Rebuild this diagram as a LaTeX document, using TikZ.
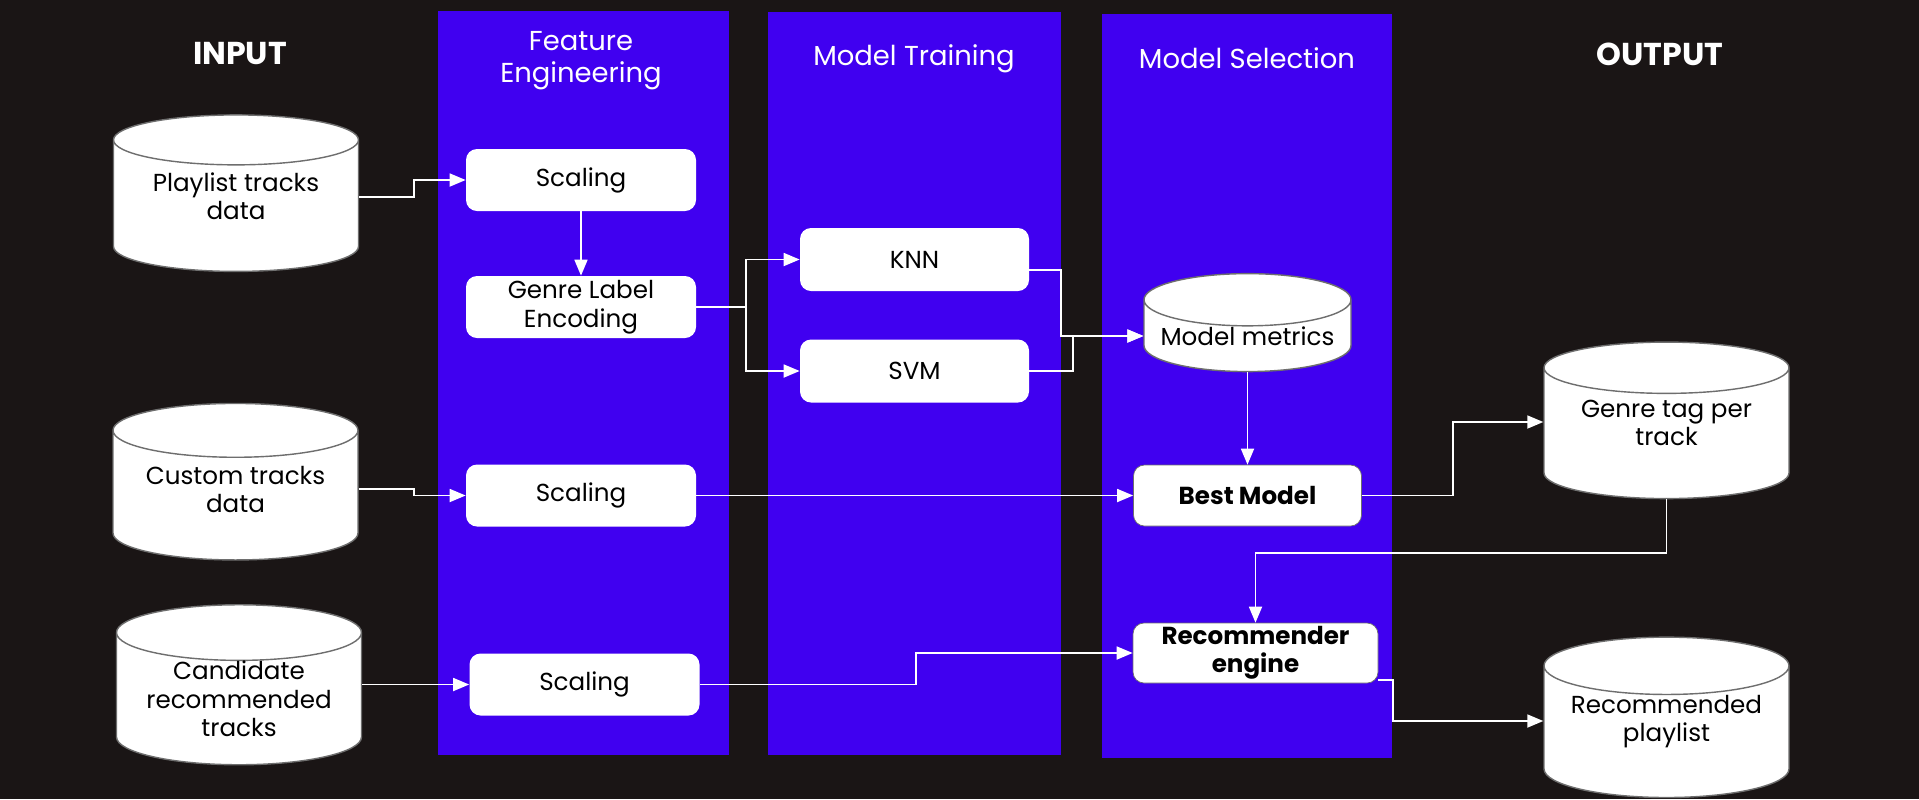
\documentclass[tikz,border=0pt]{standalone}
\usepackage{fontspec}
\setmainfont{Poppins}
\usetikzlibrary{shapes.geometric,arrows.meta}
\definecolor{bgdark}{RGB}{26,21,21}
\definecolor{lane}{RGB}{64,0,240}
\definecolor{rim}{RGB}{110,110,110}

\begin{document}
\begin{tikzpicture}[
  every node/.style={font=\fontsize{14}{16.2}\selectfont},
  box/.style={fill=white, rounded corners=0.22cm, minimum width=4.6cm, minimum height=1.24cm, align=center, inner sep=0},
  db/.style={cylinder, shape border rotate=90, aspect=0.3, draw=rim, fill=white, line width=0.8pt, minimum width=4.9cm, minimum height=3.13cm, align=center, inner sep=0},
  title/.style={text=white, font=\fontsize{15.6}{18.3}\selectfont, align=center},
  head/.style={text=white, font=\bfseries\fontsize{18}{20}\selectfont},
  flow/.style={draw=white, line width=1pt, -{Triangle[length=0.32cm,width=0.26cm]}}
]
\fill[bgdark] (0,0) rectangle (38.38,-15.98);
\fill[lane] (8.76,-0.22) rectangle (14.58,-15.10);
\fill[lane] (15.36,-0.24) rectangle (21.22,-15.10);
\fill[lane] (22.04,-0.28) rectangle (27.84,-15.16);

\node[head] (input) at (4.80,-1.08) {INPUT};
\node[title] (fe) at (11.62,-1.22) {Feature\\Engineering};
\node[title] (mt) at (18.28,-1.17) {Model Training};
\node[title] (ms) at (24.94,-1.17) {Model Selection};
\node[head] (output) at (33.20,-1.08) {OUTPUT};

\node[db, text depth=0.40cm] (pl) at (4.72,-4.12) {Playlist tracks\\data};
\node[db, text depth=0.24cm] (ct) at (4.71,-9.91) {Custom tracks\\data};
\node[db] (cand) at (4.78,-13.98) {Candidate\\recommended\\tracks};
\node[db, minimum width=4.14cm, minimum height=1.78cm] (met) at (24.95,-6.72) {Model metrics};
\node[db, text depth=0.42cm] (gt) at (33.33,-8.67) {Genre tag per\\track};
\node[db, text depth=0.54cm] (rp) at (33.33,-14.64) {Recommended\\playlist};

\node[box] (sc1) at (11.62,-3.60) {Scaling};
\node[box] (gle) at (11.62,-6.14) {Genre Label\\Encoding};
\node[box] (sc2) at (11.62,-9.91) {Scaling};
\node[box] (sc3) at (11.69,-13.69) {Scaling};
\node[box, minimum width=4.58cm, minimum height=1.26cm] (knn) at (18.29,-5.19) {KNN};
\node[box, minimum width=4.58cm, minimum height=1.26cm] (svm) at (18.29,-7.42) {SVM};
\node[box, draw=rim, minimum width=4.56cm, minimum height=1.22cm, font=\bfseries\fontsize{14}{16.2}\selectfont] (best) at (24.95,-9.91) {Best Model};
\node[box, draw=rim, minimum width=4.9cm, minimum height=1.2cm, font=\bfseries\fontsize{14}{16.2}\selectfont] (rec) at (25.11,-13.06) {Recommender\\engine};

\draw[flow] ([yshift=0.18cm]pl.east) -- ++(1.1,0) |- (sc1.west);
\draw[flow] (sc1) -- (gle);
\draw[flow] (gle.east) -- ++(1.0,0) |- (knn.west);
\draw[flow] (gle.east) -- ++(1.0,0) |- (svm.west);
\draw[flow] ([yshift=-0.21cm]knn.east) -- ++(0.64,0) |- (met.west);
\draw[flow] (svm.east) -- ++(0.88,0) |- (met.west);
\draw[flow] (met.south) -- (best.north);
\draw[flow] ([yshift=0.13cm]ct.east) -- ++(1.1,0) |- (sc2.west);
\draw[flow] (sc2) -- (best);
\draw[flow] (cand.east |- sc3.west) -- (sc3.west);
\draw[flow] (sc3.east) -- ++(4.32,0) |- (rec.west);
\draw[flow] (best.east) -- ++(1.82,0) |- ([yshift=0.23cm]gt.west);
\draw[flow] (gt.south) -- ++(0,-1.08) -| (rec.north);
\draw[flow] ([yshift=-0.54cm]rec.east) -- ++(0.3,0) |- ([yshift=0.22cm]rp.west);
\end{tikzpicture}
\end{document}
